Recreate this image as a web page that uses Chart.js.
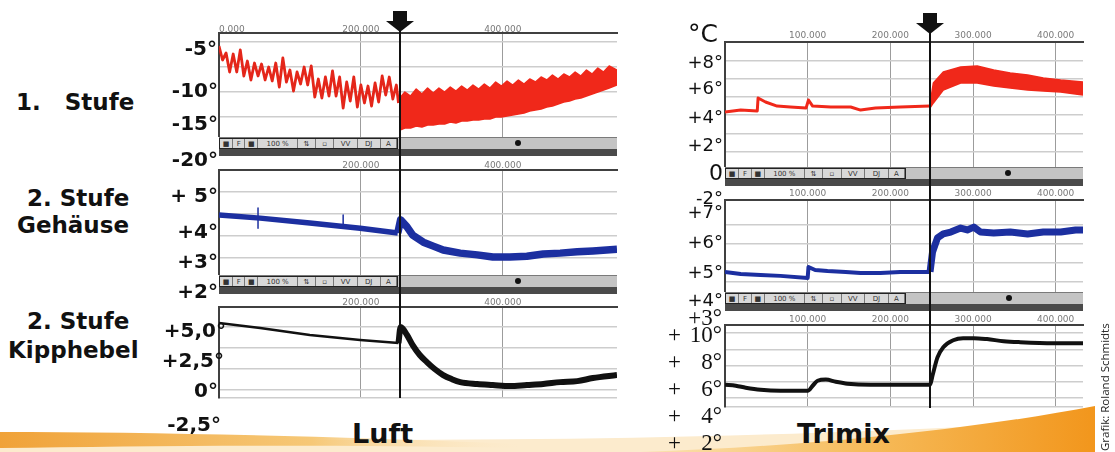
<!DOCTYPE html>
<html>
<head>
<meta charset="utf-8">
<script src="https://cdn.jsdelivr.net/npm/chart.js@4.4.0/dist/chart.umd.min.js"></script>
<style>
  body { margin: 0; background: #fff; }
  #stage { position: relative; width: 1115px; height: 452px; overflow: hidden; background: #fff; font-family: 'DejaVu Sans', sans-serif; color: #111; }
  .abs { position: absolute; }
  .cat { position: absolute; font-weight: bold; font-size: 23px; white-space: pre; line-height: 1; transform: translateY(-50%); }
  .yl { position: absolute; font-weight: bold; font-size: 20px; white-space: pre; line-height: 1; transform: translateY(-50%); }
  .yr { position: absolute; font-size: 18px; white-space: pre; line-height: 1; transform: translateY(-50%); }
  .ys { position: absolute; font-family: 'Liberation Serif', serif; font-size: 23px; line-height: 1; transform: translateY(-50%); display: flex; justify-content: space-between; width: 54px; }
  .tb { position: absolute; background: #c4c4c4; border-top: 1px solid #7a7a7a; box-sizing: border-box; }
  .tbdark { position: absolute; background: #4a4a4a; }
  .btns { position: absolute; left: 0; top: 0; height: 100%; display: flex; border: 1px solid #222; box-sizing: border-box; background: #d8d8d8; }
  .btns span { font-size: 7px; line-height: 10px; text-align: center; border-right: 1px solid #777; color: #333; overflow: hidden; }
  .dot { position: absolute; width: 6px; height: 6px; border-radius: 3px; background: #111; }
  .cursor { position: absolute; width: 2px; background: #111; }
</style>
</head>
<body>
<div id="stage">
  <svg class="abs" style="left:0;top:380px" width="1115" height="72">
    <defs>
      <linearGradient id="leftOrange" x1="0" x2="1" y1="0" y2="0">
        <stop offset="0" stop-color="#f0a238"/>
        <stop offset="0.6" stop-color="#f6c877"/>
        <stop offset="1" stop-color="#fbe6c0" stop-opacity="0"/>
      </linearGradient>
      <linearGradient id="rightOrange" x1="0" x2="1" y1="0" y2="0">
        <stop offset="0" stop-color="#fbe3b4"/>
        <stop offset="0.5" stop-color="#f6bb5a"/>
        <stop offset="1" stop-color="#f2961c"/>
      </linearGradient>
    </defs>
    <path d="M0,58 C300,60 650,66 1095,40 L1095,72 L0,72 Z" fill="#fcebcd"/>
    <path d="M0,52 C150,52 320,56 520,64 L520,68 C320,64 150,66 0,68 Z" fill="url(#leftOrange)"/>
    <path d="M640,72 C820,66 980,48 1095,26 L1095,72 Z" fill="url(#rightOrange)"/>
  </svg>

  <div class="abs" style="left:189px;top:20px"><canvas id="luft1" width="458" height="117"></canvas></div>
  <div class="abs" style="left:189px;top:157px"><canvas id="luft2" width="458" height="118"></canvas></div>
  <div class="abs" style="left:189px;top:294px"><canvas id="luft3" width="458" height="106"></canvas></div>
  <div class="abs" style="left:695px;top:29px"><canvas id="tri1" width="418" height="138"></canvas></div>
  <div class="abs" style="left:695px;top:187px"><canvas id="tri2" width="418" height="105"></canvas></div>
  <div class="abs" style="left:695px;top:312px"><canvas id="tri3" width="418" height="97"></canvas></div>

  <div id="toolbars"></div>

  <!-- left side captions -->
  <div class="cat" style="left:16px;top:102px">1.   Stufe</div>
  <div class="cat" style="left:27px;top:198px">2. Stufe</div>
  <div class="cat" style="left:17px;top:225px">Gehäuse</div>
  <div class="cat" style="left:27px;top:321px">2. Stufe</div>
  <div class="cat" style="left:8px;top:350px">Kipphebel</div>

  <!-- Luft temperature labels -->
  <div class="yl" style="right:898px;top:48px">-5°</div>
  <div class="yl" style="right:897px;top:90px">-10°</div>
  <div class="yl" style="right:897px;top:123px">-15°</div>
  <div class="yl" style="right:897px;top:159px">-20°</div>
  <div class="yl" style="right:897px;top:195px">+ 5°</div>
  <div class="yl" style="right:897px;top:231px">+4°</div>
  <div class="yl" style="right:897px;top:261px">+3°</div>
  <div class="yl" style="right:897px;top:291px">+2°</div>
  <div class="yl" style="right:889px;top:330px">+5,0°</div>
  <div class="yl" style="right:891px;top:360px">+2,5°</div>
  <div class="yl" style="right:897px;top:390px">0°</div>
  <div class="yl" style="right:894px;top:424px">-2,5°</div>

  <!-- Trimix temperature labels -->
  <div class="yr" style="left:688px;top:33px;font-size:25px">°C</div>
  <div class="yr" style="right:392px;top:62px">+8°</div>
  <div class="yr" style="right:392px;top:88px">+6°</div>
  <div class="yr" style="right:392px;top:117px">+4°</div>
  <div class="yr" style="right:392px;top:145px">+2°</div>
  <div class="yr" style="right:392px;top:173px;font-size:22px">0</div>
  <div class="yr" style="right:392px;top:198px">-2°</div>
  <div class="yr" style="right:392px;top:212px">+7°</div>
  <div class="yr" style="right:392px;top:242px">+6°</div>
  <div class="yr" style="right:392px;top:272px">+5°</div>
  <div class="yr" style="right:392px;top:300px">+4°</div>
  <div class="ys" style="left:668px;top:317px;width:54px;justify-content:flex-end">+3°</div>
  <div class="ys" style="left:668px;top:334px"><span>+</span><span>10°</span></div>
  <div class="ys" style="left:668px;top:361px"><span>+</span><span>8°</span></div>
  <div class="ys" style="left:668px;top:388px"><span>+</span><span>6°</span></div>
  <div class="ys" style="left:668px;top:415px"><span>+</span><span>4°</span></div>
  <div class="ys" style="left:668px;top:442px"><span>+</span><span>2°</span></div>

  <div class="cat" style="left:352px;top:433px;font-size:27px">Luft</div>
  <div class="cat" style="left:797px;top:433px;font-size:27px">Trimix</div>

  <div class="abs" style="left:1097px;top:451px;transform-origin:0 0;transform:rotate(-90deg);font-family:'Open Sans',sans-serif;font-size:11.5px;white-space:nowrap;color:#222">Grafik: Roland Schmidts</div>

  <div id="cursorLuft" class="cursor" style="top:28px;height:370px"></div>
  <div id="cursorTri" class="cursor" style="top:30px;height:378px"></div>
  <svg id="arrowLuft" class="abs" style="top:10px" width="30" height="24"><rect x="8" y="1" width="14" height="11" fill="#111"/><polygon points="1,11 29,11 15,22" fill="#111"/></svg>
  <svg id="arrowTri" class="abs" style="top:12px" width="30" height="24"><rect x="8" y="1" width="14" height="11" fill="#111"/><polygon points="1,11 29,11 15,22" fill="#111"/></svg>
</div>

<script>
// x values are in thousands (200 -> "200.000")
const luftXLabels = [200, 400];
const luftXLabelsFirst = [0, 200, 400];
const trimixXLabels = [100, 200, 300, 400];
const luftXMax = 561;
const trimixXMax = 433;
const cursorLuft = 255;
const cursorTrimix = 248.5;

// Luft, 1. Stufe (jagged before the cursor, dense band after)
const luftS1X = [0,5,10,15,20,25,30,35,40,45,50,55,60,65,70,75,80,85,90,95,100,105,110,115,120,125,130,135,140,145,150,155,160,165,170,175,180,185,190,195,200,205,210,215,220,225,230,235,240,245,250,253];
const luftS1Y = [-5.4,-6.8,-6.1,-8.0,-6.2,-8.0,-5.8,-8.4,-6.9,-8.8,-7.1,-8.4,-7.2,-8.8,-7.5,-8.9,-7.1,-9.5,-6.6,-9.0,-7.8,-9.9,-8.0,-9.2,-7.5,-9.3,-7.4,-10.5,-8.7,-10.6,-8.5,-10.4,-7.9,-10.4,-8.5,-11.6,-9.0,-10.9,-8.5,-11.5,-9.3,-11.1,-9.4,-11.4,-9.1,-11.0,-8.4,-10.3,-8.5,-10.7,-9.3,-11.1];
const luftS1BandX = [255,262,270,278,286,294,302,310,318,326,334,342,350,358,366,374,382,390,398,406,414,422,430,438,446,454,462,470,478,486,494,502,510,518,526,534,542,550,561];
const luftS1BandHi = [-10.6,-10.0,-10.4,-9.7,-10.2,-9.6,-10.1,-9.6,-10.0,-9.5,-9.9,-9.4,-9.8,-9.3,-9.7,-9.2,-9.6,-9.0,-9.4,-8.9,-9.3,-8.8,-9.2,-8.7,-9.0,-8.5,-8.8,-8.3,-8.7,-8.2,-8.5,-8.0,-8.4,-7.8,-8.2,-7.6,-8.0,-7.4,-7.8];
const luftS1BandLo = [-13.8,-13.6,-13.6,-13.4,-13.5,-13.3,-13.3,-13.2,-13.2,-13.0,-13.1,-12.9,-12.9,-12.8,-12.8,-12.7,-12.7,-12.5,-12.5,-12.4,-12.3,-12.2,-12.1,-11.9,-11.8,-11.7,-11.5,-11.4,-11.2,-11.0,-10.9,-10.7,-10.6,-10.4,-10.2,-10.0,-9.8,-9.6,-9.3];

// Luft, 2. Stufe Gehäuse
const luftS2LeftX = [0, 58, 128, 199, 252];
const luftS2LeftY = [3.97, 3.90, 3.79, 3.67, 3.56];
const luftS2SpikeX = [55, 55, 56, 175, 175];
const luftS2SpikeY = [4.13, 3.67, null, 3.97, 3.72];
const luftS2RightX = [252, 256, 265, 273, 288, 302, 316, 340, 364, 386, 410, 434, 457, 481, 505, 527, 561];
const luftS2RightY = [3.56, 3.86, 3.70, 3.51, 3.35, 3.26, 3.17, 3.10, 3.06, 3.01, 3.01, 3.03, 3.08, 3.10, 3.13, 3.15, 3.19];

// Luft, 2. Stufe Kipphebel
const luftS3LeftX = [0, 58, 128, 199, 253];
const luftS3LeftY = [5.32, 4.92, 4.37, 3.97, 3.73];
const luftS3RightX = [253, 256, 265, 273, 283, 293, 304, 316, 328, 340, 364, 386, 410, 434, 457, 481, 505, 527, 561];
const luftS3RightY = [3.73, 5.0, 4.37, 3.57, 2.78, 2.22, 1.67, 1.19, 0.87, 0.63, 0.48, 0.40, 0.32, 0.40, 0.48, 0.63, 0.71, 0.95, 1.19];

// Trimix, 1. Stufe
const triS1LeftX = [0, 19, 39, 40, 49, 63, 79, 98, 101, 106, 128, 152, 164, 182, 212, 248];
const triS1LeftY = [5.17, 5.28, 5.23, 5.94, 5.72, 5.50, 5.45, 5.39, 5.83, 5.50, 5.45, 5.45, 5.28, 5.39, 5.45, 5.50];
const triS1BandX = [248, 252, 264, 285, 305, 325, 345, 366, 385, 406, 433];
const triS1BandHi = [5.6, 6.76, 7.36, 7.63, 7.69, 7.47, 7.31, 7.20, 7.03, 6.92, 6.81];
const triS1BandLo = [5.4, 5.67, 6.38, 6.76, 6.76, 6.60, 6.49, 6.38, 6.32, 6.27, 6.10];

// Trimix, 2. Stufe Gehäuse
const triS2LeftX = [0, 19, 43, 67, 100, 101, 109, 124, 146, 164, 188, 212, 248];
const triS2LeftY = [4.53, 4.42, 4.37, 4.32, 4.21, 4.79, 4.63, 4.58, 4.53, 4.47, 4.47, 4.53, 4.53];
const triS2RightX = [248, 251, 257, 264, 273, 285, 293, 301, 309, 325, 345, 366, 385, 406, 424, 433];
const triS2RightY = [4.53, 5.58, 6.32, 6.53, 6.63, 6.84, 6.74, 6.89, 6.63, 6.58, 6.63, 6.53, 6.63, 6.63, 6.74, 6.74];

// Trimix, 2. Stufe Kipphebel
const triS3X = [0, 13, 25, 43, 67, 100, 106, 112, 122, 134, 148, 176, 212, 248, 251, 257, 264, 276, 288, 301, 317, 337, 357, 397, 433];
const triS3Y = [6.81, 6.75, 6.63, 6.5, 6.44, 6.44, 6.75, 7.06, 7.13, 7.0, 6.88, 6.81, 6.81, 6.81, 7.38, 8.5, 9.13, 9.56, 9.69, 9.69, 9.63, 9.5, 9.44, 9.38, 9.38];

const RED = '#f0281a';
const BLUE = '#1c2fa0';
const BLACK = '#111111';
const PAD = 30;
const AXIS_H = 13;

const pts = (xs, ys) => xs.map((x, i) => ({ x: x, y: ys[i] }));

const line = (xs, ys, color, width, extra) => Object.assign({
  data: pts(xs, ys),
  borderColor: color,
  backgroundColor: color,
  borderWidth: width,
  borderJoinStyle: 'round',
  pointRadius: 0,
  fill: false,
  spanGaps: false,
  tension: 0
}, extra || {});

function panel(id, cfg) {
  const xTicks = [0].concat(cfg.xGrid, [cfg.xMax]);
  return new Chart(document.getElementById(id), {
    type: 'line',
    data: { datasets: cfg.datasets },
    options: {
      responsive: false,
      animation: false,
      events: [],
      layout: { padding: { left: PAD, right: PAD, top: 0, bottom: cfg.padBottom || 0 } },
      plugins: { legend: { display: false }, tooltip: { enabled: false } },
      scales: {
        x: {
          type: 'linear',
          position: 'top',
          min: 0,
          max: cfg.xMax,
          afterBuildTicks: s => { s.ticks = xTicks.map(v => ({ value: v })); },
          afterFit: s => { s.height = AXIS_H; },
          ticks: {
            autoSkip: false,
            maxRotation: 0,
            align: 'inner',
            padding: cfg.tickPad,
            color: '#7a7a7a',
            font: { family: 'DejaVu Sans', size: 9 },
            callback: v => cfg.xLabels.includes(v) ? v + '.000' : ''
          },
          grid: {
            drawTicks: false,
            lineWidth: 1,
            color: c => (c.tick && cfg.xGrid.includes(c.tick.value)) ? '#9c9c9c' : 'rgba(0,0,0,0)'
          },
          border: { display: true, color: '#404040', width: 2 }
        },
        y: {
          type: 'linear',
          min: cfg.yMin,
          max: cfg.yMax,
          afterBuildTicks: s => { s.ticks = cfg.yGrid.map(v => ({ value: v })); },
          afterFit: s => { s.width = 0; },
          ticks: { display: false },
          grid: { drawTicks: false, color: '#cdcdcd', lineWidth: 1.5 },
          border: { display: true, color: '#404040', width: 2 }
        }
      }
    }
  });
}

const luft1 = panel('luft1', {
  xMax: luftXMax, xGrid: luftXLabels, xLabels: luftXLabelsFirst, tickPad: -2,
  yMin: -14.5, yMax: -4.1, yGrid: [-5, -7.5, -10, -12.5],
  datasets: [
    line(luftS1X, luftS1Y, '#e4261a', 2.8),
    line(luftS1BandX, luftS1BandHi, RED, 1.5),
    line(luftS1BandX, luftS1BandLo, RED, 1.5, { fill: '-1' })
  ]
});

const luft2 = panel('luft2', {
  xMax: luftXMax, xGrid: luftXLabels, xLabels: luftXLabels, tickPad: -1,
  yMin: 2.6, yMax: 5.0, yGrid: [4.5, 4.0, 3.5, 3.0],
  datasets: [
    line(luftS2LeftX, luftS2LeftY, BLUE, 5.5),
    line(luftS2SpikeX, luftS2SpikeY, BLUE, 1.5),
    line(luftS2RightX, luftS2RightY, BLUE, 7.5)
  ]
});

const luft3 = panel('luft3', {
  xMax: luftXMax, xGrid: luftXLabels, xLabels: luftXLabels, tickPad: -1, padBottom: 2,
  yMin: -0.63, yMax: 6.59, yGrid: [-0.63, 0, 5 / 3, 10 / 3, 5],
  datasets: [
    line(luftS3LeftX, luftS3LeftY, BLACK, 2.5),
    line(luftS3RightX, luftS3RightY, BLACK, 6, { cubicInterpolationMode: 'monotone' })
  ]
});

const tri1 = panel('tri1', {
  xMax: trimixXMax, xGrid: trimixXLabels, xLabels: trimixXLabels, tickPad: 1,
  yMin: 2.17, yMax: 9, yGrid: [8, 7, 6, 5, 4, 3],
  datasets: [
    line(triS1LeftX, triS1LeftY, RED, 3),
    line(triS1BandX, triS1BandHi, RED, 1.5),
    line(triS1BandX, triS1BandLo, RED, 1.5, { fill: '-1' })
  ]
});

const tri2 = panel('tri2', {
  xMax: trimixXMax, xGrid: trimixXLabels, xLabels: trimixXLabels, tickPad: 1,
  yMin: 3.47, yMax: 8.32, yGrid: [7, 6, 5, 4],
  datasets: [
    line(triS2LeftX, triS2LeftY, BLUE, 4),
    line(triS2RightX, triS2RightY, BLUE, 7)
  ]
});

const tri3 = panel('tri3', {
  xMax: trimixXMax, xGrid: trimixXLabels, xLabels: trimixXLabels, tickPad: 0, padBottom: 2,
  yMin: 5.44, yMax: 10.5, yGrid: [10, 9, 8, 7, 6, 5.44],
  datasets: [
    line(triS3X, triS3Y, BLACK, 4, { cubicInterpolationMode: 'monotone' })
  ]
});

// toolbars under the upper two plots of each column
function toolbar(left, top, width, btnWidth, dotX) {
  const host = document.getElementById('toolbars');
  const bar = document.createElement('div');
  bar.className = 'tb';
  bar.style.cssText = `left:${left}px;top:${top}px;width:${width}px;height:12px`;
  const btns = document.createElement('div');
  btns.className = 'btns';
  btns.style.width = btnWidth + 'px';
  const labels = ['■', 'F', '■', '100 %', '⇅', '▫', 'VV', 'DJ', 'A'];
  const weights = [12, 11, 12, 38, 17, 17, 22, 22, 15];
  const total = weights.reduce((a, b) => a + b, 0);
  labels.forEach((t, i) => {
    const s = document.createElement('span');
    s.textContent = t;
    s.style.width = (weights[i] / total * (btnWidth - 2)) + 'px';
    btns.appendChild(s);
  });
  bar.appendChild(btns);
  const dot = document.createElement('div');
  dot.className = 'dot';
  dot.style.cssText = `left:${dotX - left - 3}px;top:2px`;
  bar.appendChild(dot);
  host.appendChild(bar);
  const dark = document.createElement('div');
  dark.className = 'tbdark';
  dark.style.cssText = `left:${left}px;top:${top + 12}px;width:${width}px;height:7px`;
  host.appendChild(dark);
}

toolbar(219, 137, 398, 179, 518);
toolbar(219, 275, 398, 179, 518);
toolbar(725, 167, 358, 181, 1008);
toolbar(725, 292, 358, 181, 1009);

// cursor lines placed through the x scales
function placeCursor(chart, canvasLeft, value, lineId, arrowId) {
  const x = canvasLeft + chart.scales.x.getPixelForValue(value);
  document.getElementById(lineId).style.left = (x - 1) + 'px';
  document.getElementById(arrowId).style.left = (x - 15) + 'px';
}
placeCursor(luft1, 189, cursorLuft, 'cursorLuft', 'arrowLuft');
placeCursor(tri1, 695, cursorTrimix, 'cursorTri', 'arrowTri');
</script>
</body>
</html>
